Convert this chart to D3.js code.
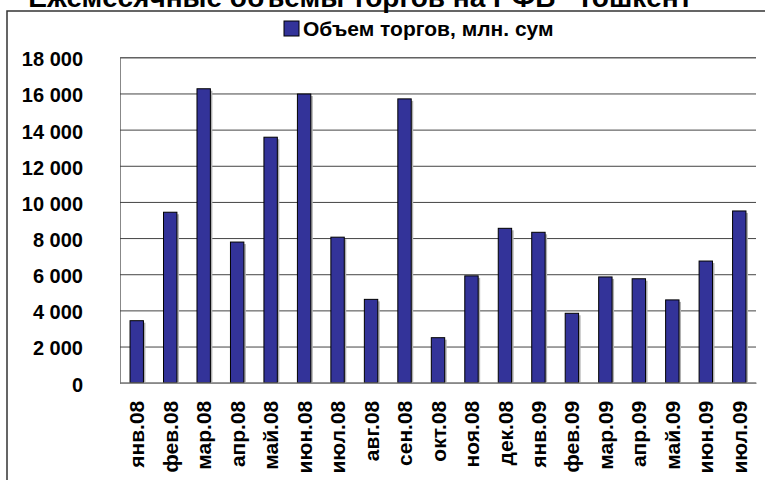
<!DOCTYPE html>
<html>
<head>
<meta charset="utf-8">
<script src="https://cdn.jsdelivr.net/npm/d3@7.9.0/dist/d3.min.js"></script>
<style>
  body { margin: 0; background: #fff; }
  svg { display: block; font-family: Arial, "Liberation Sans", sans-serif; }
</style>
</head>
<body>
<svg width="765" height="480"></svg>
<script>
// monthly trading volume, mln. sum
const months = ['янв.08', 'фев.08', 'мар.08', 'апр.08', 'май.08', 'июн.08', 'июл.08', 'авг.08',
    'сен.08', 'окт.08', 'ноя.08', 'дек.08', 'янв.09', 'фев.09', 'мар.09', 'апр.09', 'май.09',
    'июн.09', 'июл.09'];
const volumes = [3430, 9430, 16260, 7780, 13580, 15970, 8050, 4610,
    15700, 2490, 5910, 8540, 8320, 3840, 5850, 5750, 4580, 6730, 9500];
const yTicks = [0, 2000, 4000, 6000, 8000, 10000, 12000, 14000, 16000, 18000];
const title = 'Ежемесячные объемы торгов на РФБ "Тошкент"';
const seriesName = 'Объем торгов, млн. сум';

const svg = d3.select('svg');
const plot = { left: 120, right: 756, top: 57.3, bottom: 382.7 };

// outer frame (right and bottom edges run off the picture)
svg.append('rect')
    .attr('x', 7).attr('y', 11)
    .attr('width', 800).attr('height', 500)
    .attr('fill', 'none')
    .attr('stroke', '#333')
    .attr('stroke-width', 1.5);

// title, mostly cut off by the top edge like in the source
svg.append('text')
    .attr('x', 367).attr('y', 7)
    .attr('text-anchor', 'middle')
    .attr('font-size', 28)
    .attr('font-weight', 'bold')
    .text(title);

let x = d3.scaleBand()
    .domain(months)
    .range([plot.left, plot.right])
    .paddingInner(0.6)
    .paddingOuter(0.3);

let y = d3.scaleLinear()
    .domain([0, 18000])
    .range([plot.bottom, plot.top]);

// gridlines + y labels
let yAxis = d3.axisLeft(y)
    .tickValues(yTicks)
    .tickSize(-(plot.right - plot.left))
    .tickPadding(37)
    .tickFormat((d) => d3.format(',')(d).replace(/,/g, ' '));

let gy = svg.append('g')
    .attr('transform', `translate(${plot.left},0)`)
    .call(yAxis);
gy.select('.domain').attr('stroke', '#888');
gy.selectAll('.tick line').attr('stroke', '#444');
gy.selectAll('.tick text')
    .attr('font-size', 20)
    .attr('font-weight', 'bold')
    .attr('fill', '#000')
    .attr('dy', '0.42em');

// bars with a faint shadow
svg.append('g').selectAll('rect')
    .data(volumes)
    .join('rect')
    .attr('x', (d, i) => x(months[i]) + 2)
    .attr('y', (d) => y(d) + 2)
    .attr('width', x.bandwidth())
    .attr('height', (d) => plot.bottom - y(d) - 2)
    .attr('fill', '#b0b0b0');

svg.append('g').selectAll('rect')
    .data(volumes)
    .join('rect')
    .attr('x', (d, i) => x(months[i]))
    .attr('y', (d) => y(d))
    .attr('width', x.bandwidth())
    .attr('height', (d) => plot.bottom - y(d))
    .attr('fill', '#333399')
    .attr('stroke', '#000')
    .attr('stroke-width', 1);

// x axis
let gx = svg.append('g')
    .attr('transform', `translate(0,${plot.bottom})`)
    .call(d3.axisBottom(x).tickSize(0).tickPadding(0));
gx.select('.domain').attr('stroke', '#888').attr('stroke-width', 1.5);
gx.selectAll('.tick text')
    .attr('font-size', 21)
    .attr('font-weight', 'bold')
    .attr('fill', '#000')
    .attr('text-anchor', 'end')
    .attr('transform', 'translate(0,18) rotate(-90)')
    .attr('x', 0)
    .attr('y', 0)
    .attr('dy', '0.36em');

// legend
svg.append('rect')
    .attr('x', 284).attr('y', 21)
    .attr('width', 15).attr('height', 15)
    .attr('fill', '#333399')
    .attr('stroke', '#000');
svg.append('text')
    .attr('x', 303).attr('y', 36)
    .attr('font-size', 21)
    .attr('font-weight', 'bold')
    .text(seriesName);
</script>
</body>
</html>
